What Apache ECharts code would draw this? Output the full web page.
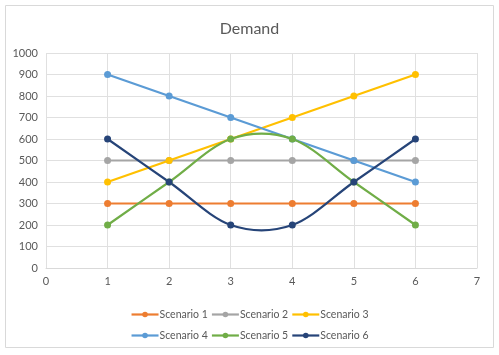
<!DOCTYPE html>
<html><head><meta charset="utf-8">
<script src="https://cdn.jsdelivr.net/npm/echarts@6/dist/echarts.min.js"></script>
<style>html,body{margin:0;padding:0;background:#fff}#c{width:499px;height:355px}</style>
</head><body><div id="c"></div>
<script>
const xValues = [1, 2, 3, 4, 5, 6];
const seriesNames = ['Scenario 1','Scenario 2','Scenario 3','Scenario 4','Scenario 5','Scenario 6'];
const scenario1 = [300, 300, 300, 300, 300, 300];
const scenario2 = [500, 500, 500, 500, 500, 500];
const scenario3 = [400, 500, 600, 700, 800, 900];
const scenario4 = [900, 800, 700, 600, 500, 400];
const scenario5 = [200, 400, 600, 600, 400, 200];
const scenario6 = [600, 400, 200, 200, 400, 600];
const colors = ['#ED7D31','#A5A5A5','#FFC000','#5B9BD5','#70AD47','#264478'];
const smoothFlags = [false, false, false, false, true, true];
const allData = [scenario1, scenario2, scenario3, scenario4, scenario5, scenario6];

const font = 'Lato, "Liberation Sans", sans-serif';
const LW = 2.2;
const chart = echarts.init(document.getElementById('c'), null, {renderer: 'canvas'});
const series = [];
allData.forEach((d, i) => {
  const pts = d.map((v, j) => [xValues[j], v]);
  if (smoothFlags[i]) {
    // Catmull-Rom style smoothing (Excel-like) drawn through the axis scales
    series.push({
      name: seriesNames[i] + ' (curve)', type: 'custom', data: pts, z: 2 + i,
      encode: {x: 0, y: 1},
      renderItem: function (params, api) {
        const k = params.dataIndex;
        if (k >= pts.length - 1) return null;
        const p0 = api.coord(pts[Math.max(k - 1, 0)]);
        const p1 = api.coord(pts[k]);
        const p2 = api.coord(pts[k + 1]);
        const p3 = api.coord(pts[Math.min(k + 2, pts.length - 1)]);
        return {
          type: 'bezierCurve',
          shape: {
            x1: p1[0], y1: p1[1], x2: p2[0], y2: p2[1],
            cpx1: p1[0] + (p2[0] - p0[0]) / 6, cpy1: p1[1] + (p2[1] - p0[1]) / 6,
            cpx2: p2[0] - (p3[0] - p1[0]) / 6, cpy2: p2[1] - (p3[1] - p1[1]) / 6
          },
          style: {stroke: colors[i], lineWidth: LW, fill: 'none'}
        };
      }
    });
    series.push({
      name: seriesNames[i], type: 'line', data: pts, symbol: 'circle', symbolSize: 7,
      lineStyle: {width: 0, opacity: 0}, itemStyle: {color: colors[i]}, z: 3 + i
    });
  } else {
    series.push({
      name: seriesNames[i], type: 'line', data: pts, symbol: 'circle', symbolSize: 7,
      lineStyle: {width: LW, color: colors[i]}, itemStyle: {color: colors[i]}, z: 2 + i
    });
  }
});
const legendItems = seriesNames.map((n, i) => ({
  name: n, itemStyle: {color: colors[i]},
  lineStyle: {color: colors[i], width: LW, opacity: 1}
}));
const legendCommon = {
  left: 'center', itemWidth: 27, itemHeight: 7, itemGap: 3,
  textStyle: {fontFamily: font, fontSize: 10.5, color: '#595959', padding: [0,0,0,-4]}
};
chart.setOption({
  animation: false,
  title: {text: 'Demand', left: 'center', top: 16,
    textStyle: {fontFamily: font, fontSize: 16, fontWeight: 'normal', color: '#595959'}},
  graphic: [{type: 'rect', shape: {x: 5.5, y: 5.5, width: 488, height: 342},
    style: {fill: 'none', stroke: '#D9D9D9', lineWidth: 1}, silent: true}],
  grid: {left: 46, right: 22, top: 53, bottom: 87, containLabel: false},
  xAxis: {type: 'value', min: 0, max: 7, interval: 1,
    axisLine: {show: true, lineStyle: {color: '#D9D9D9'}},
    axisTick: {show: false},
    axisLabel: {fontFamily: font, fontSize: 11, color: '#595959', margin: 8},
    splitLine: {show: true, lineStyle: {color: '#E0E0E0'}}},
  yAxis: {type: 'value', min: 0, max: 1000, interval: 100,
    axisLine: {show: false}, axisTick: {show: false},
    axisLabel: {fontFamily: font, fontSize: 11, color: '#595959', margin: 8,
      formatter: v => String(v)},
    splitLine: {show: true, lineStyle: {color: '#E0E0E0'}}},
  legend: [
    Object.assign({}, legendCommon, {top: 304, data: legendItems.slice(0, 3)}),
    Object.assign({}, legendCommon, {top: 325, data: legendItems.slice(3, 6)})
  ],
  series: series
});
</script></body></html>
